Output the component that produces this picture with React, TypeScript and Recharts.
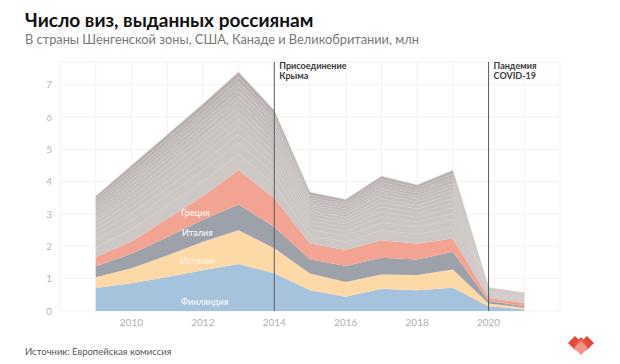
import { AreaChart, Area, XAxis, YAxis, CartesianGrid, ReferenceLine } from 'recharts'

const years = [2009, 2010, 2011, 2012, 2013, 2014, 2015, 2016, 2017, 2018, 2019, 2020, 2021]
const xTicks = [2008, 2009, 2010, 2011, 2012, 2013, 2014, 2015, 2016, 2017, 2018, 2019, 2020, 2021, 2022]
const xLabels = [2010, 2012, 2014, 2016, 2018, 2020]
const yTicks = [0, 1, 2, 3, 4, 5, 6, 7]

// млн виз, снизу вверх
const finland = [0.71, 0.86, 1.05, 1.26, 1.45, 1.17, 0.64, 0.44, 0.69, 0.64, 0.72, 0.15, 0.05]
const spain = [0.33, 0.46, 0.67, 0.88, 1.05, 0.77, 0.52, 0.46, 0.44, 0.47, 0.56, 0.08, 0.05]
const italy = [0.34, 0.45, 0.56, 0.68, 0.79, 0.66, 0.44, 0.49, 0.52, 0.48, 0.55, 0.08, 0.05]
const greece = [0.29, 0.38, 0.57, 0.73, 1.07, 0.89, 0.49, 0.5, 0.54, 0.5, 0.41, 0.09, 0.1]

// прочие страны (серые слои)
const germany = [0.3, 0.38, 0.42, 0.46, 0.49, 0.43, 0.25, 0.25, 0.31, 0.29, 0.34, 0.05, 0.05]
const france = [0.23, 0.28, 0.31, 0.34, 0.36, 0.33, 0.19, 0.19, 0.24, 0.22, 0.25, 0.04, 0.04]
const czechia = [0.17, 0.21, 0.23, 0.26, 0.27, 0.24, 0.14, 0.14, 0.18, 0.16, 0.19, 0.03, 0.03]
const poland = [0.15, 0.19, 0.21, 0.23, 0.24, 0.22, 0.13, 0.12, 0.16, 0.14, 0.17, 0.03, 0.02]
const estonia = [0.13, 0.16, 0.18, 0.2, 0.21, 0.19, 0.11, 0.11, 0.14, 0.13, 0.15, 0.02, 0.02]
const latvia = [0.13, 0.17, 0.18, 0.2, 0.21, 0.19, 0.11, 0.11, 0.14, 0.13, 0.15, 0.02, 0.02]
const lithuania = [0.11, 0.14, 0.16, 0.17, 0.18, 0.16, 0.1, 0.09, 0.12, 0.11, 0.13, 0.02, 0.02]
const hungary = [0.11, 0.14, 0.16, 0.17, 0.18, 0.16, 0.09, 0.1, 0.12, 0.11, 0.12, 0.02, 0.02]
const austria = [0.09, 0.12, 0.13, 0.14, 0.15, 0.14, 0.08, 0.08, 0.1, 0.09, 0.11, 0.02, 0.02]
const netherlands = [0.1, 0.12, 0.13, 0.14, 0.15, 0.13, 0.08, 0.08, 0.1, 0.09, 0.1, 0.02, 0.01]
const norway = [0.09, 0.11, 0.13, 0.14, 0.16, 0.14, 0.08, 0.08, 0.1, 0.09, 0.11, 0.01, 0.02]
const slovakia = [0.08, 0.09, 0.1, 0.12, 0.12, 0.11, 0.06, 0.06, 0.08, 0.07, 0.08, 0.01, 0.01]
const usa = [0.1, 0.12, 0.13, 0.14, 0.15, 0.14, 0.08, 0.08, 0.1, 0.09, 0.11, 0.02, 0.02]
const uk = [0.09, 0.12, 0.13, 0.14, 0.16, 0.13, 0.08, 0.07, 0.09, 0.09, 0.1, 0.01, 0.01]

const main = [
  { key: 'fin', values: finland, color: '#a6c3de' },
  { key: 'esp', values: spain, color: '#fcd9a6' },
  { key: 'ita', values: italy, color: '#9da2aa' },
  { key: 'gre', values: greece, color: '#f3a391' },
]
const others = [
  { key: 'deu', values: germany, color: '#cdc7c6' },
  { key: 'fra', values: france, color: '#ccc6c5' },
  { key: 'cze', values: czechia, color: '#cbc5c4' },
  { key: 'pol', values: poland, color: '#cac4c3' },
  { key: 'est', values: estonia, color: '#c9c3c2' },
  { key: 'lva', values: latvia, color: '#c8c2c1' },
  { key: 'ltu', values: lithuania, color: '#c7c1c0' },
  { key: 'hun', values: hungary, color: '#c6bfbe' },
  { key: 'aut', values: austria, color: '#c5bebd' },
  { key: 'nld', values: netherlands, color: '#c3bcbb' },
  { key: 'nor', values: norway, color: '#c1bab9' },
  { key: 'svk', values: slovakia, color: '#bfb8b6' },
  { key: 'usa', values: usa, color: '#bdb5b3' },
  { key: 'gbr', values: uk, color: '#b9b0ae' },
]

const data = years.map((year, i) => {
  const row: Record<string, number> = { year }
  ;[...main, ...others].forEach(s => { row[s.key] = s.values[i] })
  return row
})

const font = 'Lato, "Noto Sans", sans-serif'

function AnnLabel({ viewBox, lines }: any) {
  const x = viewBox.x + 5
  const y = viewBox.y + 7
  return (
    <text x={x} y={y} fill="#3a3a3a" fontSize={9} fontWeight={700} fontFamily={font}>
      {lines.map((l: string, i: number) => (
        <tspan key={i} x={x} dy={i === 0 ? 0 : 10}>{l}</tspan>
      ))}
    </text>
  )
}

const inLabel = (left: number, top: number, color: string) => ({
  position: 'absolute' as const, left, top, fontSize: 9, color, fontFamily: font,
})

export default function App() {
  return (
    <div style={{ position: 'absolute', left: 0, top: 0, width: 620, height: 364, background: '#fff', fontFamily: font }}>
      <div style={{ position: 'absolute', left: 25, top: 8, fontSize: 19, fontWeight: 700, color: '#111' }}>
        Число виз, выданных россиянам
      </div>
      <div style={{ position: 'absolute', left: 25, top: 31, fontSize: 12.8, color: '#777' }}>
        В страны Шенгенской зоны, США, Канаде и Великобритании, млн
      </div>
      <div style={{ position: 'absolute', left: 0, top: 0 }}>
        <AreaChart width={620} height={364} data={data} margin={{ top: 62, right: 60, bottom: 23, left: 20 }}>
          <CartesianGrid stroke="#f2f2f2" />
          <XAxis dataKey="year" type="number" domain={[2008, 2022]} ticks={xTicks}
            tickFormatter={v => (xLabels.includes(v) ? String(v) : '')}
            tick={{ fill: '#b0b0b0', fontSize: 10, fontFamily: font }}
            axisLine={false} tickLine={false} />
          <YAxis type="number" domain={[0, 7.7]} ticks={yTicks} width={40}
            tick={{ fill: '#b8b8b8', fontSize: 10, fontFamily: font }}
            axisLine={false} tickLine={false} />
          {main.map(s => (
            <Area key={s.key} type="linear" dataKey={s.key} stackId="v" fill={s.color} fillOpacity={1}
              stroke="none" isAnimationActive={false} />
          ))}
          {others.map(s => (
            <Area key={s.key} type="linear" dataKey={s.key} stackId="v" fill={s.color} fillOpacity={1}
              stroke="#dad5d4" strokeWidth={0.6} isAnimationActive={false} />
          ))}
          <ReferenceLine x={2014} stroke="#5a5a5a" strokeWidth={1}
            label={<AnnLabel lines={['Присоединение', 'Крыма']} />} />
          <ReferenceLine x={2020} stroke="#5a5a5a" strokeWidth={1}
            label={<AnnLabel lines={['Пандемия', 'COVID-19']} />} />
        </AreaChart>
      </div>
      <div style={inLabel(181, 207, '#fff')}>Греция</div>
      <div style={inLabel(182, 227, '#fff')}>Италия</div>
      <div style={inLabel(180, 255, '#fff4e0')}>Испания</div>
      <div style={inLabel(181, 296, '#fff')}>Финляндия</div>
      <div style={{ position: 'absolute', left: 25, top: 346, fontSize: 9.5, color: '#555' }}>
        Источник: Европейская комиссия
      </div>
      <svg style={{ position: 'absolute', left: 566, top: 334 }} width={34} height={26}>
        <polygon points="2,9 9,2 16,9 9,16" fill="#e5473a" />
        <polygon points="14,9 21,2 28,9 21,16" fill="#e5473a" />
        <polygon points="8,10 15,3 22,10 15,17" fill="#ea5a48" />
        <polygon points="8,14 15,7 22,14 15,21" fill="#f2948a" />
      </svg>
    </div>
  )
}
